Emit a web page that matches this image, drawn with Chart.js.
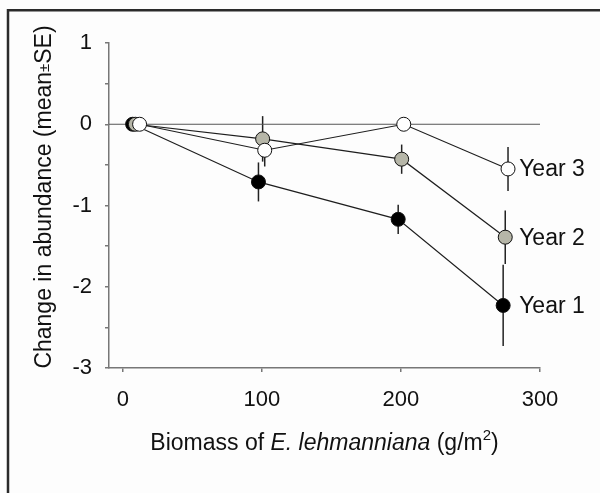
<!DOCTYPE html>
<html>
<head>
<meta charset="utf-8">
<script src="https://cdn.jsdelivr.net/npm/chart.js@4/dist/chart.umd.min.js"></script>
<style>
html,body{margin:0;padding:0;background:#fdfdfd;}
canvas{display:block;}
</style>
</head>
<body>
<canvas id="c" width="600" height="493"></canvas>
<script>
// ---- data ----
const seriesNames = ['Year 1', 'Year 2', 'Year 3'];
const biomass1 = [7, 97.5, 198, 273.5];
const change1  = [0, -0.71, -1.17, -2.23];
const se1      = [0, 0.24, 0.18, 0.50];
const biomass2 = [9, 100.5, 200.5, 275];
const change2  = [0, -0.18, -0.43, -1.39];
const se2      = [0, 0.28, 0.18, 0.33];
const biomass3 = [12, 102, 202, 277];
const change3  = [0, -0.32, 0, -0.55];
const se3      = [0, 0.20, 0, 0.27];
const xTicks = [0, 100, 200, 300];
const xRange = [-10, 300];
const yRange = [-3, 1];

const FONT = '"Liberation Sans", Arial, Helvetica, sans-serif';
const pts = (xs, ys) => xs.map((x, i) => ({x: x, y: ys[i]}));

const seriesStyle = [
  {name: seriesNames[2], xs: biomass3, ys: change3, se: se3, fill: '#ffffff'},
  {name: seriesNames[1], xs: biomass2, ys: change2, se: se2, fill: '#b6b6a8'},
  {name: seriesNames[0], xs: biomass1, ys: change1, se: se1, fill: '#000000'}
];

const datasets = seriesStyle.map(s => ({
  label: s.name,
  data: pts(s.xs, s.ys),
  showLine: true,
  borderColor: '#1e1e1e',
  borderWidth: 1.2,
  pointRadius: 7,
  pointBorderWidth: 1,
  pointBorderColor: '#111111',
  pointBackgroundColor: s.fill,
  pointHoverRadius: 7,
  se: s.se
}));
datasets.push({
  label: 'zero',
  data: [{x: xRange[0], y: 0}, {x: xRange[1], y: 0}],
  showLine: true,
  borderColor: '#555555',
  borderWidth: 1,
  pointRadius: 0
});

const framePlugin = {
  id: 'frame',
  beforeDraw(chart) {
    const ctx = chart.ctx;
    ctx.save();
    ctx.fillStyle = '#fdfdfd';
    ctx.fillRect(0, 0, chart.width, chart.height);
    ctx.strokeStyle = '#2a2a2a';
    ctx.lineWidth = 2.5;
    ctx.beginPath();
    ctx.moveTo(8, chart.height + 5);
    ctx.lineTo(8, 10.3);
    ctx.lineTo(chart.width + 5, 10.3);
    ctx.stroke();
    ctx.restore();
  }
};

const errorBarPlugin = {
  id: 'errbars',
  beforeDatasetsDraw(chart) {
    const ctx = chart.ctx;
    const xs = chart.scales.x, ys = chart.scales.y;
    ctx.save();
    ctx.strokeStyle = '#222222';
    ctx.lineWidth = 1.5;
    chart.data.datasets.forEach(ds => {
      if (!ds.se) return;
      ds.data.forEach((p, i) => {
        const e = ds.se[i];
        if (!e) return;
        const px = xs.getPixelForValue(p.x);
        ctx.beginPath();
        ctx.moveTo(px, ys.getPixelForValue(p.y + e));
        ctx.lineTo(px, ys.getPixelForValue(p.y - e));
        ctx.stroke();
      });
    });
    ctx.restore();
  }
};

const textPlugin = {
  id: 'texts',
  afterDraw(chart) {
    const ctx = chart.ctx;
    const xs = chart.scales.x, ys = chart.scales.y;
    const area = chart.chartArea;
    ctx.save();
    ctx.fillStyle = '#111111';
    ctx.textBaseline = 'middle';
    // series labels
    ctx.font = '23px ' + FONT;
    ctx.textAlign = 'left';
    seriesStyle.forEach(s => {
      const last = s.ys.length - 1;
      ctx.fillText(s.name, xs.getPixelForValue(285), ys.getPixelForValue(s.ys[last]) + 1);
    });
    // x title
    const parts = [
      {t: 'Biomass of ', f: '23px ' + FONT, dy: 0},
      {t: 'E. lehmanniana', f: 'italic 23px ' + FONT, dy: 0},
      {t: ' (g/m', f: '23px ' + FONT, dy: 0},
      {t: '2', f: '15px ' + FONT, dy: -8},
      {t: ')', f: '23px ' + FONT, dy: 0}
    ];
    let total = 0;
    parts.forEach(p => { ctx.font = p.f; p.w = ctx.measureText(p.t).width; total += p.w; });
    let x = (area.left + area.right) / 2 - total / 2;
    const ty = 444;
    parts.forEach(p => { ctx.font = p.f; ctx.fillText(p.t, x, ty + p.dy); x += p.w; });
    // y title
    const yparts = [
      {t: 'Change in abundance (mean', f: '23px ' + FONT},
      {t: '\u00B1', f: '15px ' + FONT},
      {t: 'SE)', f: '23px ' + FONT}
    ];
    total = 0;
    yparts.forEach(p => { ctx.font = p.f; p.w = ctx.measureText(p.t).width; total += p.w; });
    ctx.translate(45, 197);
    ctx.rotate(-Math.PI / 2);
    x = -total / 2;
    yparts.forEach(p => { ctx.font = p.f; ctx.fillText(p.t, x, 0); x += p.w; });
    ctx.restore();
  }
};

new Chart(document.getElementById('c'), {
  type: 'scatter',
  data: {datasets: datasets},
  options: {
    responsive: false,
    animation: false,
    devicePixelRatio: 1,
    layout: {padding: {left: 0, right: 60, top: 43, bottom: 0}},
    plugins: {legend: {display: false}, tooltip: {enabled: false}},
    scales: {
      x: {
        type: 'linear',
        min: xRange[0], max: xRange[1],
        afterBuildTicks(scale) { scale.ticks = xTicks.map(v => ({value: v})); },
        afterFit(scale) { scale.height = 125; },
        grid: {drawOnChartArea: false, drawTicks: true, tickLength: 4, color: '#777777', lineWidth: 1.5},
        border: {color: '#777777', width: 1.5},
        ticks: {color: '#111111', font: {family: FONT, size: 22}, padding: 15, maxRotation: 0}
      },
      y: {
        type: 'linear',
        min: yRange[0], max: yRange[1],
        afterFit(scale) { scale.width = 109; },
        grid: {drawOnChartArea: false, drawTicks: true, tickLength: 4, color: '#777777', lineWidth: 1.5},
        border: {color: '#777777', width: 1.5},
        ticks: {
          stepSize: 0.5,
          color: '#111111',
          font: {family: FONT, size: 22},
          padding: 13,
          callback: v => Number.isInteger(v) ? String(v) : ''
        }
      }
    }
  },
  plugins: [framePlugin, errorBarPlugin, textPlugin]
});
</script>
</body>
</html>
